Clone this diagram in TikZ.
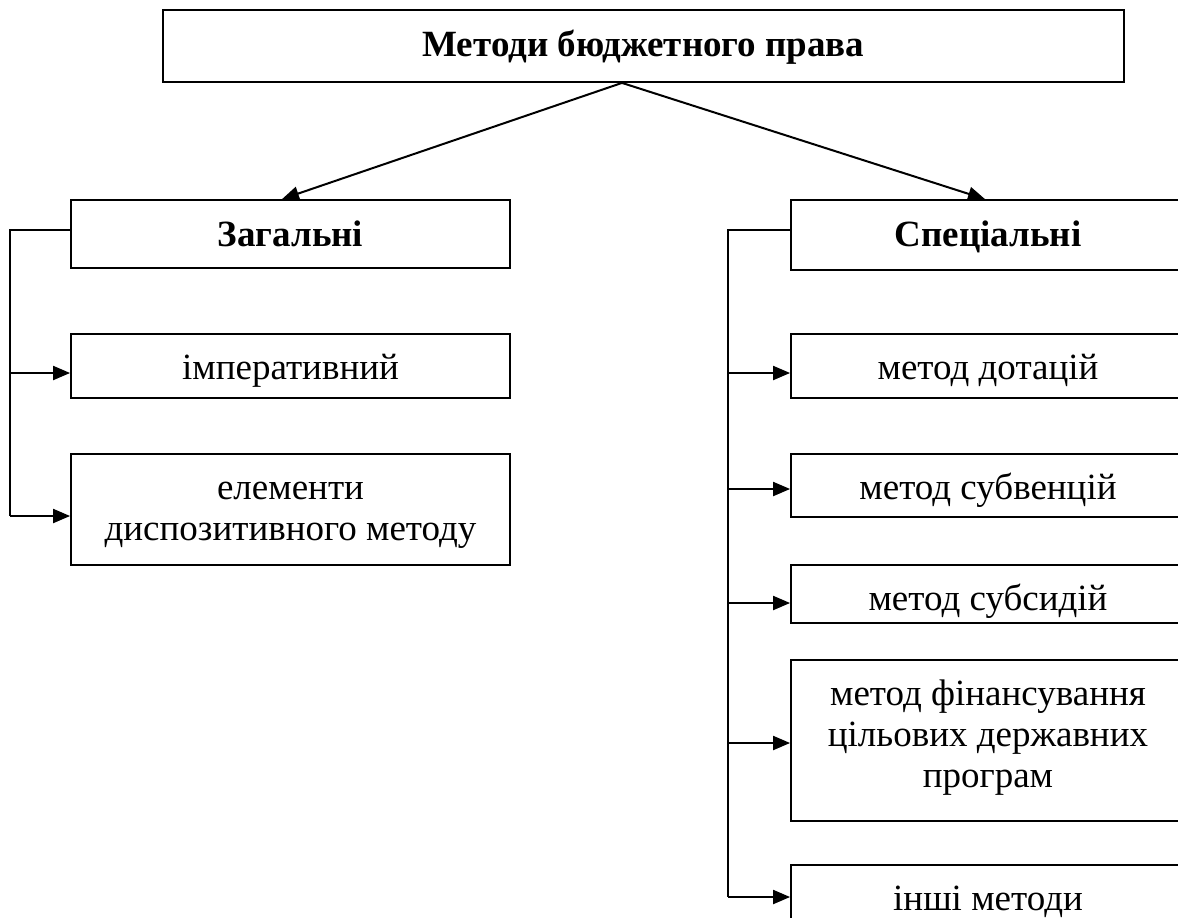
\documentclass[tikz,border=0pt]{standalone}
\usepackage{fontspec}
\setmainfont{Liberation Serif}
\usetikzlibrary{arrows.meta}
\newcommand\mystrut{\rule{0pt}{14pt}}
\tikzset{
  box/.style={draw, line width=0.9pt, inner sep=0pt},
  txt/.style={anchor=north, inner sep=0pt, align=center, yshift=-9pt,
    font=\fontsize{18.5}{20.5}\selectfont},
  btxt/.style={txt, yshift=-0.5pt, font=\fontsize{18.5}{20.5}\selectfont\bfseries},
  conn/.style={line width=1pt},
  arr/.style={line width=1pt, -{Triangle[length=8.5pt,width=7pt]}}
}
\begin{document}
\begin{tikzpicture}[x=0.5pt,y=-0.5pt]
\useasboundingbox (0,0) rectangle (1178,917);
\clip (0,0) rectangle (1178,917);
% top
\node[box, minimum width=480.5pt, minimum height=36pt,
  label={[btxt]north:\mystrut Методи бюджетного права}] (top) at (643.5,46) {};
% left column
\node[box, minimum width=219.5pt, minimum height=34pt,
  label={[btxt]north:\mystrut Загальні}] (zag) at (290.5,234) {};
\node[box, minimum width=219.5pt, minimum height=32pt,
  label={[txt]north:\mystrut імперативний}] (imp) at (290.5,366) {};
\node[box, minimum width=219.5pt, minimum height=55.5pt,
  label={[txt]north:{\mystrut елементи\\диспозитивного методу}}] (elem) at (290.5,509.5) {};
% right column
\node[box, minimum width=197pt, minimum height=35pt,
  label={[btxt]north:\mystrut Спеціальні}] (spec) at (988,235) {};
\node[box, minimum width=197pt, minimum height=32pt,
  label={[txt]north:\mystrut метод дотацій}] (dot) at (988,366) {};
\node[box, minimum width=197pt, minimum height=31.5pt,
  label={[txt]north:\mystrut метод субвенцій}] (subv) at (988,485.5) {};
\node[box, minimum width=197pt, minimum height=29pt,
  label={[txt]north:\mystrut метод субсидій}] (subs) at (988,594) {};
\node[box, minimum width=197pt, minimum height=80.5pt,
  label={[txt]north:{\mystrut метод фінансування\\цільових державних\\програм}}] (fin) at (988,740.5) {};
\node[box, minimum width=197pt, minimum height=32pt,
  label={[txt]north:\mystrut інші методи}] (inshi) at (988,897) {};
% top arrows
\draw[arr] ([xshift=-10.75pt]top.south) -- ([xshift=-4.25pt]zag.north);
\draw[arr] ([xshift=-10.75pt]top.south) -- ([xshift=-1.5pt]spec.north);
% left trunk
\draw[conn] ([yshift=2pt]zag.west) -| ([xshift=-30pt,yshift=-3.25pt]elem.west);
\draw[arr] ([xshift=-30pt,yshift=-3.5pt]imp.west) -- ([yshift=-3.5pt]imp.west);
\draw[arr] ([xshift=-30pt,yshift=-3.25pt]elem.west) -- ([yshift=-3.25pt]elem.west);
% right trunk
\draw[conn] ([yshift=2.5pt]spec.west) -| ([xshift=-31pt]inshi.west);
\draw[arr] ([xshift=-31pt,yshift=-3.5pt]dot.west) -- ([yshift=-3.5pt]dot.west);
\draw[arr] ([xshift=-31pt,yshift=-1.75pt]subv.west) -- ([yshift=-1.75pt]subv.west);
\draw[arr] ([xshift=-31pt,yshift=-4.5pt]subs.west) -- ([yshift=-4.5pt]subs.west);
\draw[arr] ([xshift=-31pt,yshift=-1.25pt]fin.west) -- ([yshift=-1.25pt]fin.west);
\draw[arr] ([xshift=-31pt]inshi.west) -- (inshi.west);
\end{tikzpicture}
\end{document}
